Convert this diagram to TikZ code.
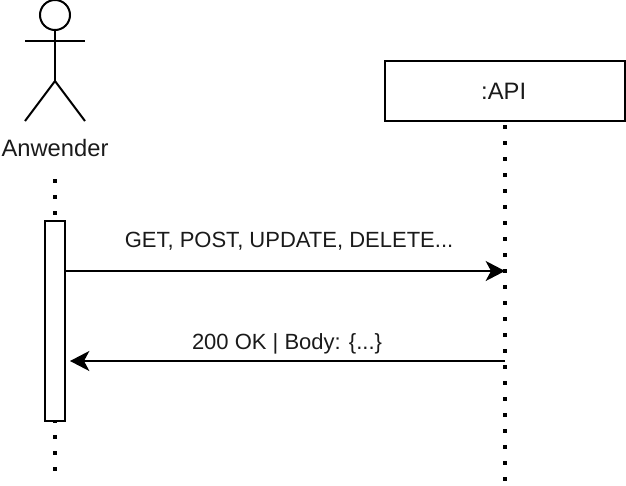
\documentclass[tikz,border=0pt]{standalone}
\usepackage{fontspec}
\setmainfont{Liberation Sans}
\usetikzlibrary{arrows.meta}
\definecolor{txt}{HTML}{1A1A1A}
\tikzset{
  x=0.75pt,y=-0.75pt,
  stroke/.style={draw=black,line width=1.5pt},
  lifeline/.style={draw=black,line width=3pt,dash pattern=on 3pt off 9pt},
  boxstyle/.style={stroke,fill=white,inner sep=0pt,outer sep=0pt,anchor=north west},
  msg/.style={draw=black,line width=1.5pt,-{Stealth[length=14.5pt,width=15pt,inset=4pt]}},
  biglabel/.style={text=txt,font=\fontsize{17.8pt}{20pt}\selectfont,inner sep=0pt},
  smalllabel/.style={text=txt,font=\fontsize{16.5pt}{18pt}\selectfont,inner sep=0pt,anchor=base}
}
\begin{document}
\begin{tikzpicture}
\useasboundingbox (0,0) rectangle (626,486);
\coordinate (u1) at (55,179);
\coordinate (u2) at (55,471);
\coordinate (a2) at (505,481);
\coordinate (t1) at (505,271);
\coordinate (t2) at (70,361);
\coordinate (f2) at (505,361);
\coordinate (f1) at (65,271);
\node[boxstyle,minimum width=180pt,minimum height=45pt,biglabel] (api) at (385,61) {\kern-2pt:API};
\coordinate (a1) at (505,125);
\draw[lifeline] (a1) -- (a2);
\draw[lifeline] (u1) -- (u2);
\node[boxstyle,minimum width=15pt,minimum height=150pt] (act) at (45,221) {};
\draw[msg] (f1) -- (t1);
\draw[msg] (f2) -- (t2);
\node[smalllabel] (l1) at (289,247) {GET, POST, UPDATE, DELETE...};
\node[smalllabel] (l2) at (287,349) {200 OK | Body: \{...\}};
% actor
\draw[stroke] (55,15) circle[radius=15];
\draw[stroke] (55,30) -- (55,81);
\draw[stroke] (25,41) -- (85,41);
\draw[stroke] (25,121) -- (55,81) -- (85,121);
\node[biglabel,anchor=base] (anw) at (55,156) {Anwender};
\end{tikzpicture}
\end{document}
